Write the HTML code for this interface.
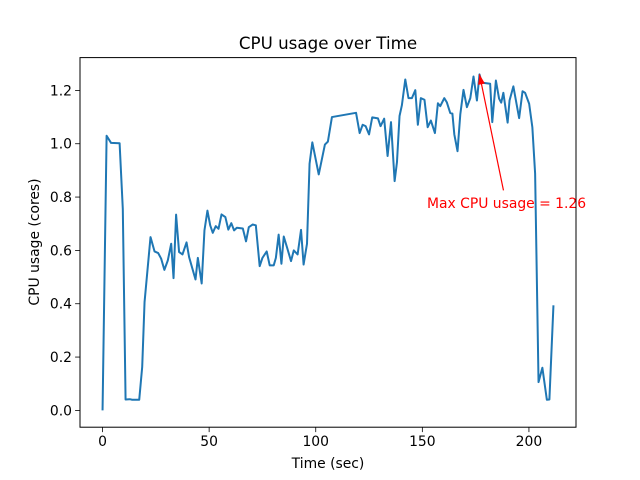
<!DOCTYPE html>
<html><head><meta charset="utf-8"><style>
body{margin:0;background:#fff}
svg{display:block;font-family:"DejaVu Sans","Liberation Sans",sans-serif}
</style></head><body>
<svg id="chart" width="640" height="480" viewBox="0 0 640 480">
<rect width="640" height="480" fill="#fff"/>
<text x="328" y="49" font-size="16.7" text-anchor="middle">CPU usage over Time</text>
<g id="ticks"></g>
<path id="line" fill="none" stroke="#1f77b4" stroke-width="2" stroke-linejoin="round"/>
<g id="annot"></g>
<rect x="80" y="57.6" width="496" height="369.6" fill="none" stroke="#000" stroke-width="1"/>
<text x="328" y="468" font-size="13.9" text-anchor="middle">Time (sec)</text>
<text transform="translate(39,242) rotate(-90)" font-size="13.9" text-anchor="middle">CPU usage (cores)</text>
</svg>
<script>
const times=[0,1.9,4,8,9.5,10.8,12.8,13.9,17.2,18.6,19.7,22.5,24.4,26.1,27.5,29,30.6,32.2,33.3,34.5,35.9,37.5,39.4,40.6,43.6,44.7,46.5,47.8,49.2,50.5,51.7,53.1,54.4,55.8,57.6,59,60.4,61.7,63,65.8,67.3,68.6,70.4,71.9,73.7,75,77,78.4,80.3,81.3,82.6,83.9,85,86.5,88.4,89.7,91.5,93.1,94.3,95.9,97.1,98.4,101.4,104.3,105.7,107.6,118.9,120.6,122,123.4,125,126.5,129.2,130.4,132.1,133.7,135.3,137,138.1,139.3,140.4,142,143.5,145.1,146.7,147.9,149.3,151,152.5,154,155.9,157.3,158.4,160.3,161.5,163.1,164.1,165,166.5,167.8,169.3,170.9,172.5,174,175.6,176.8,177.9,181.8,182.8,184.5,186,187,188,190,190.9,192.7,195.4,197,198.2,200.1,201.6,202.9,204.5,206.3,208.4,209.6,211.5];
const usage=[0,1.03,1.003,1.002,0.756,0.041,0.042,0.04,0.04,0.163,0.406,0.65,0.596,0.59,0.569,0.527,0.562,0.625,0.496,0.734,0.594,0.585,0.63,0.575,0.491,0.572,0.476,0.675,0.749,0.694,0.666,0.691,0.681,0.735,0.725,0.678,0.702,0.675,0.685,0.682,0.634,0.687,0.697,0.694,0.541,0.572,0.596,0.544,0.544,0.572,0.659,0.55,0.652,0.612,0.56,0.6,0.585,0.677,0.547,0.625,0.925,1.005,0.885,0.997,1.008,1.1,1.116,1.04,1.071,1.066,1.035,1.099,1.095,1.066,1.094,0.954,1.081,0.86,0.931,1.104,1.144,1.241,1.171,1.171,1.201,1.071,1.171,1.165,1.062,1.087,1.04,1.152,1.141,1.171,1.155,1.115,1.113,1.035,0.972,1.11,1.202,1.137,1.171,1.252,1.162,1.26,1.229,1.225,1.081,1.237,1.169,1.154,1.191,1.079,1.162,1.215,1.096,1.197,1.191,1.15,1.062,0.888,0.106,0.16,0.04,0.041,0.394];
const xTicks=[0,50,100,150,200];
const yTicks=[0,0.2,0.4,0.6,0.8,1.0,1.2];
const NS="http://www.w3.org/2000/svg";
const L=80,R=576,T=57.6,B=427.2;
const tmin=Math.min(...times),tmax=Math.max(...times),vmin=Math.min(...usage),vmax=Math.max(...usage);
const x0=tmin-(tmax-tmin)*0.05,x1=tmax+(tmax-tmin)*0.05;
const y0=vmin-(vmax-vmin)*0.05,y1=vmax+(vmax-vmin)*0.05;
const sx=t=>L+(t-x0)/(x1-x0)*(R-L);
const sy=v=>B-(v-y0)/(y1-y0)*(B-T);
function mk(tag,attrs,txt){const e=document.createElementNS(NS,tag);for(const k in attrs)e.setAttribute(k,attrs[k]);if(txt!==undefined)e.textContent=txt;return e;}
const g=document.getElementById('ticks');
xTicks.forEach(t=>{const X=sx(t);
 const l=mk('line',{x1:X,x2:X,y1:B,y2:B+4.9,stroke:'#000','stroke-width':0.8});
 
 
 g.appendChild(l);
 const tx=mk('text',{x:X,y:B+19,'font-size':13.9,'text-anchor':'middle'},String(t));
 
 
 g.appendChild(tx);});
yTicks.forEach(v=>{const Y=sy(v);
 const l=mk('line',{x1:L-4.9,x2:L,y1:Y,y2:Y,stroke:'#000','stroke-width':0.8});
 
 
 g.appendChild(l);
 const tx=mk('text',{x:L-8,y:Y+5,'font-size':13.9,'text-anchor':'end'},v.toFixed(1));
 
 
 g.appendChild(tx);});
document.getElementById('line').setAttribute('d',times.map((t,i)=>(i?'L':'M')+sx(t).toFixed(2)+','+sy(usage[i]).toFixed(2)).join(''));
let mi=0;usage.forEach((v,i)=>{if(v>usage[mi])mi=i;});
const ax=sx(times[mi]),ay=sy(usage[mi]);
const a=document.getElementById('annot');
const tail=[ax+24,ay+116];
const ar=mk('line',{x1:tail[0],y1:tail[1],x2:ax,y2:ay,stroke:'red','stroke-width':1.2});


a.appendChild(ar);
const ang=Math.atan2(ay-tail[1],ax-tail[0]);
const hp=[[ax,ay],[ax-10*Math.cos(ang)+3.5*Math.sin(ang),ay-10*Math.sin(ang)-3.5*Math.cos(ang)],[ax-10*Math.cos(ang)-3.5*Math.sin(ang),ay-10*Math.sin(ang)+3.5*Math.cos(ang)]];
const hd=mk('polygon',{points:hp.map(p=>p.join(',')).join(' '),fill:'red'});


a.appendChild(hd);
const at=mk('text',{x:427,y:208,'font-size':13.9,fill:'red'},'Max CPU usage = '+usage[mi].toFixed(2));


a.appendChild(at);
</script>
</body></html>
